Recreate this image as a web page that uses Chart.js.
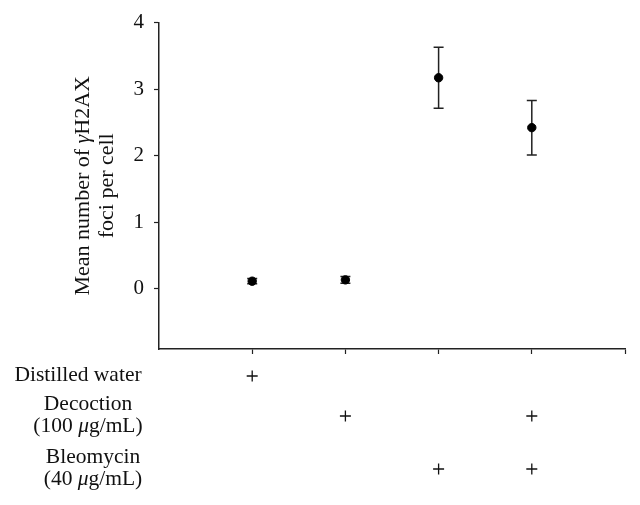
<!DOCTYPE html>
<html>
<head>
<meta charset="utf-8">
<script src="https://cdn.jsdelivr.net/npm/chart.js@4.4.0/dist/chart.umd.min.js"></script>
<style>
  html, body { margin: 0; padding: 0; background: #fff; }
  #wrap { width: 640px; height: 505px; }
</style>
</head>
<body>
<div id="wrap"><canvas id="chartCanvas" width="640" height="505"></canvas></div>
<script>
// datos del grafico
const grupos = [1, 2, 3, 4];
const medias = [0.11, 0.13, 3.17, 2.42];
const errores = [0.04, 0.05, 0.46, 0.41];
const yTicks = [0, 1, 2, 3, 4];
const xTicks = [1, 2, 3, 4, 5];

// tabla de tratamientos bajo el eje x
const filas = [
  [['Distilled water']],
  [['Decoction'], ['(100 ', '*μ', 'g/mL)']],
  [['Bleomycin'], ['(40 ', '*μ', 'g/mL)']]
];
const aguaDestilada = [1, 0, 0, 0];
const decoccion = [0, 1, 0, 1];
const bleomicina = [0, 0, 1, 1];
const tratamientos = [aguaDestilada, decoccion, bleomicina];

const tituloY = [['Mean number of ', '*γ', 'H2AX'], ['foci per cell']];

const SERIF = '"Liberation Serif", "DejaVu Serif", serif';

// dibuja un texto con partes en cursiva (las que empiezan con *)
function textoMixto(ctx, partes, x, y, size) {
  const piezas = partes.map((p) => {
    const it = p.startsWith('*');
    const t = it ? p.slice(1) : p;
    ctx.font = (it ? 'italic ' : '') + size + 'px ' + SERIF;
    return { t, it, w: ctx.measureText(t).width };
  });
  const total = piezas.reduce((s, p) => s + p.w, 0);
  let cx = x - total / 2;
  piezas.forEach((p) => {
    ctx.font = (p.it ? 'italic ' : '') + size + 'px ' + SERIF;
    ctx.textAlign = 'left';
    ctx.fillText(p.t, cx, y);
    cx += p.w;
  });
}

const extras = {
  id: 'extras',
  beforeDatasetsDraw(chart) {
    const ctx = chart.ctx;
    const xs = chart.scales.x;
    const ys = chart.scales.y;
    ctx.save();
    ctx.strokeStyle = '#222';
    ctx.lineWidth = 1.5;
    grupos.forEach((g, i) => {
      const px = xs.getPixelForValue(g);
      const top = ys.getPixelForValue(medias[i] + errores[i]);
      const bot = ys.getPixelForValue(medias[i] - errores[i]);
      ctx.beginPath();
      ctx.moveTo(px, top); ctx.lineTo(px, bot);
      ctx.moveTo(px - 5, top); ctx.lineTo(px + 5, top);
      ctx.moveTo(px - 5, bot); ctx.lineTo(px + 5, bot);
      ctx.stroke();
    });
    ctx.restore();
  },
  afterDraw(chart) {
    const ctx = chart.ctx;
    const xs = chart.scales.x;
    const area = chart.chartArea;
    ctx.save();
    ctx.fillStyle = '#111';
    ctx.textBaseline = 'middle';

    // titulo del eje y, rotado
    ctx.translate(area.left - 76, (area.top + area.bottom) / 2);
    ctx.rotate(-Math.PI / 2);
    tituloY.forEach((linea, i) => {
      ctx.save();
      ctx.translate(0, i * 24);
      textoMixto(ctx, linea, 0, 0, 22);
      ctx.restore();
    });
    ctx.setTransform(1, 0, 0, 1, 0, 0);

    // filas de la tabla
    const centrosFila = [375, 415, 468];
    const centrosTexto = [78, 88, 93];
    filas.forEach((lineas, r) => {
      const n = lineas.length;
      lineas.forEach((linea, k) => {
        const y = centrosFila[r] + (k - (n - 1) / 2) * 22;
        textoMixto(ctx, linea, centrosTexto[r], y, 21.5);
      });
      tratamientos[r].forEach((v, i) => {
        if (!v) return;
        const px = xs.getPixelForValue(grupos[i]);
        ctx.strokeStyle = '#111';
        ctx.lineWidth = 1.3;
        ctx.beginPath();
        ctx.moveTo(px - 5.5, centrosFila[r] + 1); ctx.lineTo(px + 5.5, centrosFila[r] + 1);
        ctx.moveTo(px, centrosFila[r] - 4.5); ctx.lineTo(px, centrosFila[r] + 6.5);
        ctx.stroke();
      });
    });
    ctx.restore();
  }
};

const chart = new Chart(document.getElementById('chartCanvas').getContext('2d'), {
  type: 'scatter',
  data: {
    datasets: [{
      data: grupos.map((g, i) => ({ x: g, y: medias[i] })),
      backgroundColor: '#000',
      borderColor: '#000',
      pointRadius: 4.2,
      pointHoverRadius: 4.2
    }]
  },
  options: {
    responsive: false,
    animation: false,
    layout: { padding: { left: 0, right: 15, top: 22, bottom: 0 } },
    plugins: { legend: { display: false }, tooltip: { enabled: false } },
    scales: {
      x: {
        type: 'linear',
        min: 0,
        max: 5,
        afterBuildTicks: (s) => { s.ticks = xTicks.map((v) => ({ value: v })); },
        afterFit: (s) => { s.height = 156; },
        ticks: { display: false },
        grid: { drawOnChartArea: false, drawTicks: true, tickLength: 5, color: '#222', tickWidth: 1.2 },
        border: { display: true, color: '#222', width: 1.5 }
      },
      y: {
        min: -0.91,
        max: 4,
        afterBuildTicks: (s) => { s.ticks = yTicks.map((v) => ({ value: v })); },
        afterFit: (s) => { s.width = 159; },
        ticks: {
          color: '#111',
          padding: 10,
          font: { family: SERIF, size: 21 }
        },
        grid: { drawOnChartArea: false, drawTicks: true, tickLength: 5, color: '#222', tickWidth: 1.2 },
        border: { display: true, color: '#222', width: 1.5 }
      }
    }
  },
  plugins: [extras]
});
</script>
</body>
</html>
